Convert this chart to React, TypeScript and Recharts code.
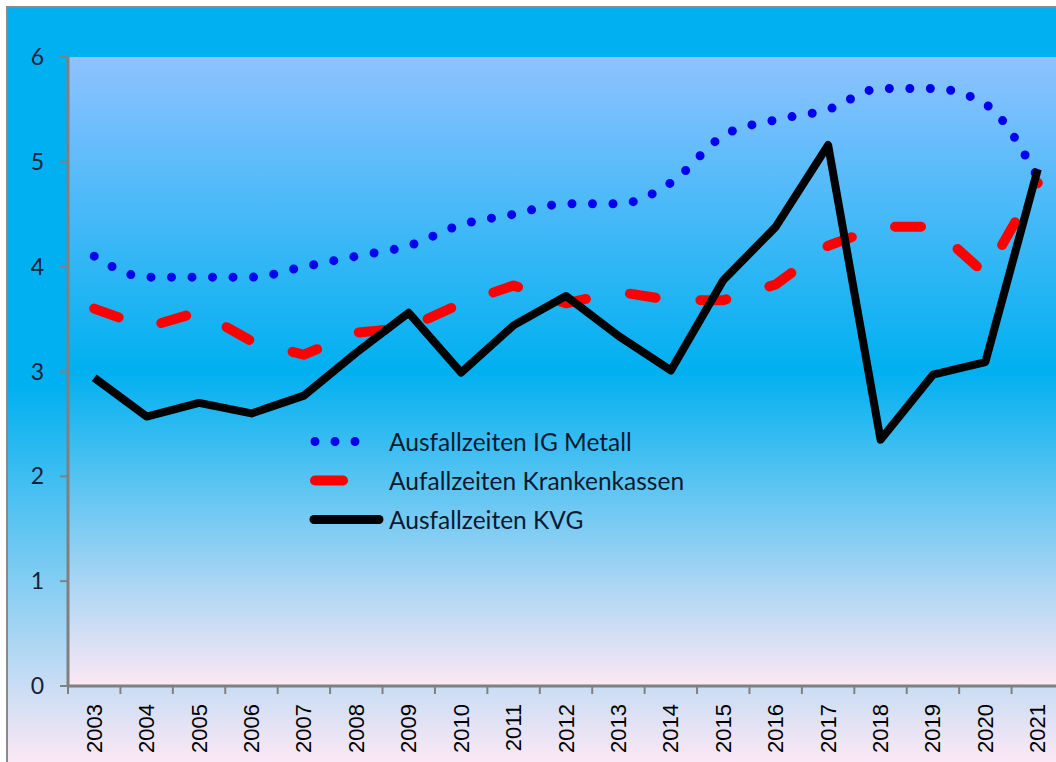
import React from "react";
import { CartesianGrid, Legend, Line, LineChart, XAxis, YAxis } from "recharts";

const years = [
  "2003", "2004", "2005", "2006", "2007", "2008", "2009", "2010", "2011", "2012",
  "2013", "2014", "2015", "2016", "2017", "2018", "2019", "2020", "2021",
];
const igMetall = [4.1, 3.9, 3.9, 3.9, 4.0, 4.1, 4.2, 4.4, 4.5, 4.6, 4.6, 4.8, 5.25, 5.4, 5.5, 5.7, 5.7, 5.55, 4.85];
const krankenkassen = [3.6, 3.42, 3.57, 3.29, 3.16, 3.37, 3.42, 3.65, 3.82, 3.65, 3.76, 3.68, 3.68, 3.83, 4.2, 4.38, 4.38, 3.93, 4.8];
const kvg = [2.94, 2.57, 2.7, 2.6, 2.77, 3.18, 3.56, 2.99, 3.44, 3.72, 3.34, 3.01, 3.87, 4.38, 5.16, 2.35, 2.97, 3.09, 4.93];
const yTicks = [0, 1, 2, 3, 4, 5, 6];

const data = years.map((year, i) => ({
  idx: i,
  year,
  ig: igMetall[i],
  kk: krankenkassen[i],
  kvg: kvg[i],
}));

// category boundaries, where Excel puts its tick marks
const bounds = [...years.map((_, i) => i - 0.5), years.length - 0.5];

const CHART_W = 1080;
const CHART_H = 760;
const MARGIN = { top: 49, right: 24, left: 0, bottom: 0 };
const Y_W = 60;
const PLOT_W = CHART_W - MARGIN.left - MARGIN.right - Y_W;
const BAND = PLOT_W / years.length;

const AXIS = "#808080";

function YearTick(props: any) {
  const { x, y, payload } = props;
  const i = Math.round(payload.value + 0.5);
  if (i >= years.length) return null;
  const cx = x + BAND / 2;
  return (
    <text
      x={cx}
      y={y}
      transform={`rotate(-90, ${cx}, ${y})`}
      textAnchor="end"
      dominantBaseline="central"
      fontSize={22}
      fontFamily="Liberation Sans, Arial, sans-serif"
      fill="#000"
    >
      {years[i]}
    </text>
  );
}

const swatch: Record<string, { x1: number; x2: number; w: number; dash?: string }> = {
  ig: { x1: 10, x2: 70, w: 9, dash: "0 20" },
  kk: { x1: 10, x2: 38, w: 10 },
  kvg: { x1: 9, x2: 74, w: 9 },
};

function LegendBox({ payload }: any) {
  return (
    <div style={{ fontFamily: "Lato, sans-serif", fontSize: 24.5, color: "#0c1a30" }}>
      {(payload || []).map((entry: any) => {
        const s = swatch[entry.dataKey];
        return (
          <div key={entry.dataKey} style={{ display: "flex", alignItems: "center", height: 39 }}>
            <svg width={84} height={39}>
              <line
                x1={s.x1}
                x2={s.x2}
                y1={19.5}
                y2={19.5}
                stroke={entry.color}
                strokeWidth={s.w}
                strokeLinecap="round"
                strokeDasharray={s.dash}
              />
            </svg>
            <span style={{ whiteSpace: "nowrap" }}>{entry.value}</span>
          </div>
        );
      })}
    </div>
  );
}

export default function App() {
  return (
    <div
      style={{
        position: "fixed",
        left: 6,
        top: 6,
        width: 1048,
        height: 754,
        overflow: "hidden",
        borderTop: "2px solid #8a8a8a",
        borderLeft: "2px solid #8a8a8a",
        background: "linear-gradient(to bottom, #00b0f0 0%, #00b0f0 50%, #fce8f5 100%)",
      }}
    >
      <LineChart width={CHART_W} height={CHART_H} data={data} margin={MARGIN}>
        <defs>
          <linearGradient id="plotBg" x1="0" y1="0" x2="0" y2="1">
            <stop offset="0%" stopColor="#8ec2ff" />
            <stop offset="50%" stopColor="#00b0f0" />
            <stop offset="100%" stopColor="#fce8f5" />
          </linearGradient>
        </defs>
        <CartesianGrid horizontal={false} vertical={false} fill="url(#plotBg)" fillOpacity={1} />
        <XAxis
          dataKey="idx"
          type="number"
          domain={[-0.5, years.length - 0.5]}
          ticks={bounds}
          interval={0}
          height={CHART_H - MARGIN.top - 629}
          stroke={AXIS}
          axisLine={{ stroke: AXIS, strokeWidth: 3 }}
          tickLine={{ stroke: AXIS, strokeWidth: 2 }}
          tickSize={8}
          tickMargin={10}
          tick={<YearTick />}
        />
        <YAxis
          width={Y_W}
          domain={[0, 6]}
          ticks={yTicks}
          interval={0}
          stroke={AXIS}
          axisLine={{ stroke: AXIS, strokeWidth: 3 }}
          tickLine={{ stroke: AXIS, strokeWidth: 2 }}
          tickSize={8}
          tickMargin={16}
          tick={{ fill: "#14213d", fontSize: 23, fontFamily: "Lato, sans-serif" }}
        />
        <Legend
          layout="vertical"
          align="center"
          verticalAlign="middle"
          itemSorter="dataKey"
          content={<LegendBox />}
          wrapperStyle={{ left: 297, top: 413.5, width: "auto" }}
        />
        <Line
          dataKey="ig"
          name="Ausfallzeiten IG Metall"
          type="monotone"
          stroke="#0000ee"
          strokeWidth={9}
          strokeDasharray="0 20.5"
          strokeLinecap="round"
          dot={false}
          activeDot={false}
          isAnimationActive={false}
        />
        <Line
          dataKey="kk"
          name="Aufallzeiten Krankenkassen"
          type="linear"
          stroke="#ff0000"
          strokeWidth={10}
          strokeDasharray="26 45"
          strokeLinecap="round"
          strokeLinejoin="round"
          dot={false}
          activeDot={false}
          isAnimationActive={false}
        />
        <Line
          dataKey="kvg"
          name="Ausfallzeiten KVG"
          type="linear"
          stroke="#000000"
          strokeWidth={8}
          strokeLinejoin="round"
          dot={false}
          activeDot={false}
          isAnimationActive={false}
        />
      </LineChart>
    </div>
  );
}
